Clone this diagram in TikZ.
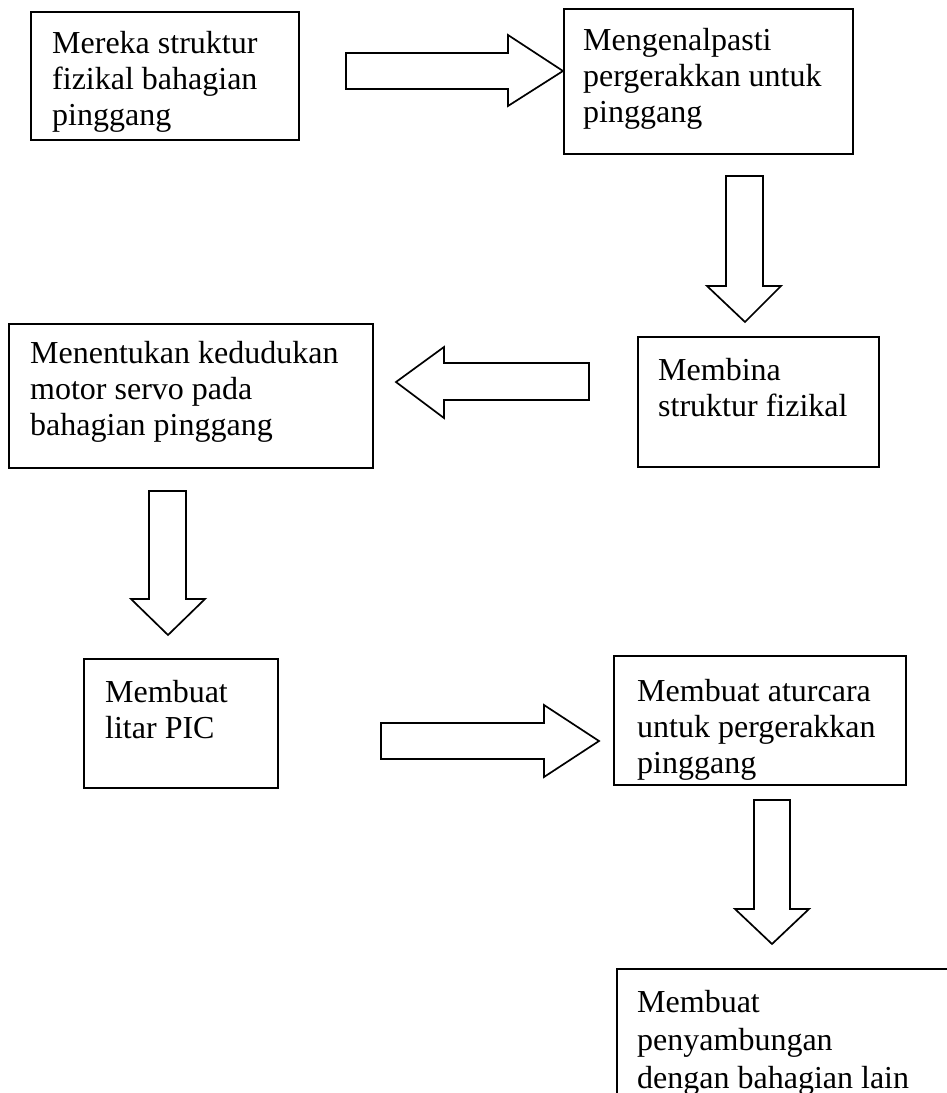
\documentclass[tikz,border=0pt]{standalone}
\usepackage{fontspec}
\setmainfont{Liberation Serif}
\begin{document}
\begin{tikzpicture}[x=1pt,y=-1pt,
  box/.style={draw, line width=1.7pt, inner sep=0pt, anchor=north west},
  txt/.style={anchor=base west, inner sep=0pt, font=\fontsize{32}{36}\selectfont},
  barrow/.style={draw, line width=1.7pt, line join=miter, fill=white}]
\path[use as bounding box] (0,0) rectangle (947,1093);
\clip (0,0) rectangle (947,1093);

% boxes
\node[box, minimum width=268pt, minimum height=128pt] (b1) at (30,11) {};
\node[box, minimum width=289pt, minimum height=145pt] (b2) at (563,8) {};
\node[box, minimum width=241pt, minimum height=130pt] (b3) at (637,336) {};
\node[box, minimum width=364pt, minimum height=144pt] (b4) at (8,323) {};
\node[box, minimum width=194pt, minimum height=129pt] (b5) at (83,658) {};
\node[box, minimum width=292pt, minimum height=129pt] (b6) at (613,655) {};
\node[box, minimum width=360pt, minimum height=160pt] (b7) at (616,968) {};

% texts
\node[txt] (t1) at (52,53) {\begin{tabular}[t]{@{}l@{}}Mereka struktur\\fizikal bahagian\\pinggang\end{tabular}};
\node[txt] (t2) at (583,50) {\begin{tabular}[t]{@{}l@{}}Mengenalpasti\\pergerakkan untuk\\pinggang\end{tabular}};
\node[txt] (t3) at (658,380) {\begin{tabular}[t]{@{}l@{}}Membina\\struktur fizikal\end{tabular}};
\node[txt] (t4) at (30,363) {\begin{tabular}[t]{@{}l@{}}Menentukan kedudukan\\motor servo pada\\bahagian pinggang\end{tabular}};
\node[txt] (t5) at (105,702) {\begin{tabular}[t]{@{}l@{}}Membuat\\litar PIC\end{tabular}};
\node[txt] (t6) at (637,701) {\begin{tabular}[t]{@{}l@{}}Membuat aturcara\\untuk pergerakkan\\pinggang\end{tabular}};
\node[txt, font=\fontsize{32}{38}\selectfont] (t7) at (637,1012) {\begin{tabular}[t]{@{}l@{}}Membuat\\penyambungan\\dengan bahagian lain\end{tabular}};

% block arrows
\draw[barrow] (346,53) -- (508,53) -- (508,35) -- (563,71) -- (508,106) -- (508,89) -- (346,89) -- cycle;
\draw[barrow] (726,176) -- (763,176) -- (763,286) -- (781,286) -- (745,322) -- (707,286) -- (726,286) -- cycle;
\draw[barrow] (589,363) -- (444,363) -- (444,347) -- (396,382) -- (444,418) -- (444,400) -- (589,400) -- cycle;
\draw[barrow] (149,491) -- (186,491) -- (186,599) -- (205,599) -- (168,635) -- (131,599) -- (149,599) -- cycle;
\draw[barrow] (381,723) -- (544,723) -- (544,705) -- (599,741) -- (544,777) -- (544,759) -- (381,759) -- cycle;
\draw[barrow] (754,800) -- (790,800) -- (790,909) -- (809,909) -- (772,944) -- (735,909) -- (754,909) -- cycle;
\end{tikzpicture}
\end{document}
